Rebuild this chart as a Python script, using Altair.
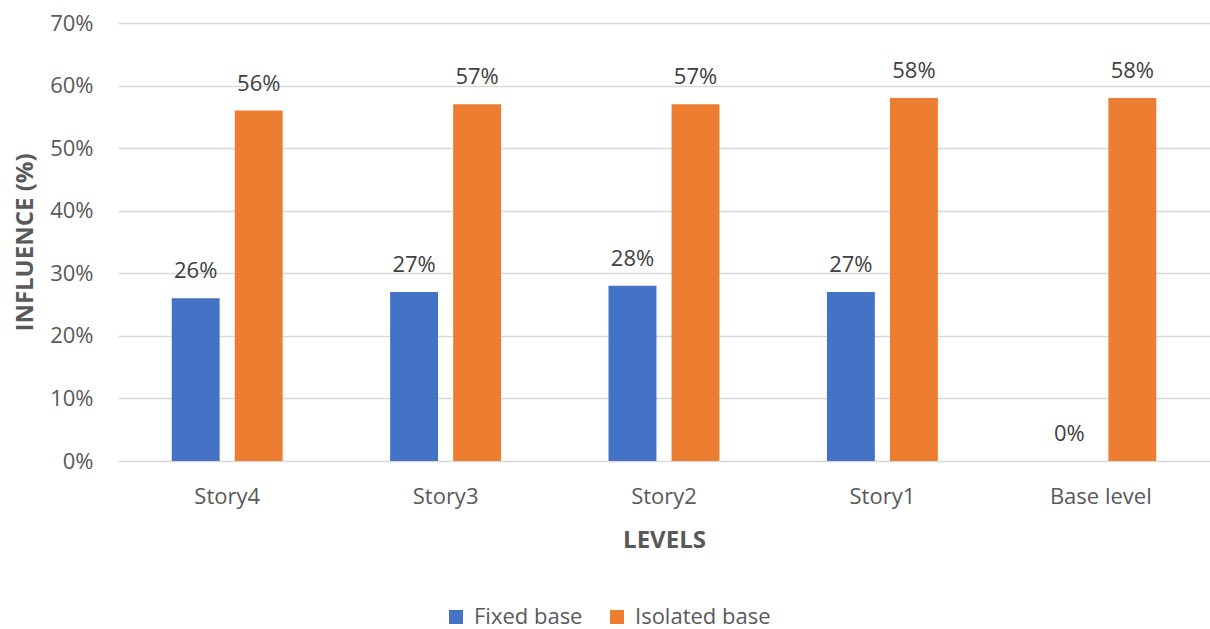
import altair as alt
import pandas as pd

levels = ["Story4", "Story3", "Story2", "Story1", "Base level"]
series = ["Fixed base", "Isolated base"]
fixed_base = [26, 27, 28, 27, 0]
isolated_base = [56, 57, 57, 58, 58]
colors = ["#4472C4", "#ED7D31"]

rows = []
for lvl, f, i in zip(levels, fixed_base, isolated_base):
    rows.append({"level": lvl, "series": series[0], "value": f / 100})
    rows.append({"level": lvl, "series": series[1], "value": i / 100})
df = pd.DataFrame(rows)

FONT = "Open Sans"
GREY = "#595959"
FS = 22

x = alt.X(
    "level:N",
    sort=levels,
    scale=alt.Scale(paddingInner=0.492, paddingOuter=0.246),
    axis=alt.Axis(
        title="LEVELS",
        domain=False,
        ticks=False,
        grid=False,
        labelAngle=0,
        labelBaseline="alphabetic",
        labelPadding=42,
        labelFontSize=FS,
        labelColor=GREY,
        labelFont=FONT,
        titleFont=FONT,
        titleFontSize=24,
        titleFontWeight="bold",
        titleColor=GREY,
        titleY=86,
        titleBaseline="alphabetic",
    ),
)
xoff = alt.XOffset("series:N", sort=series, scale=alt.Scale(paddingInner=0.24, paddingOuter=0))
y = alt.Y(
    "value:Q",
    scale=alt.Scale(domain=[0, 0.7], nice=False),
    axis=alt.Axis(
        title="INFLUENCE (%)",
        format=".0%",
        values=[0, 0.1, 0.2, 0.3, 0.4, 0.5, 0.6, 0.7],
        domain=False,
        ticks=False,
        grid=True,
        gridColor="#D9D9D9",
        gridWidth=1.6,
        labelPadding=25,
        labelFontSize=FS,
        labelColor=GREY,
        labelFont=FONT,
        titleFont=FONT,
        titleFontSize=24,
        titleFontWeight="bold",
        titleColor=GREY,
        titleX=-86,
        titleY=219,
        titleAngle=-90,
        titleBaseline="alphabetic",
    ),
)
color = alt.Color(
    "series:N",
    sort=series,
    scale=alt.Scale(domain=series, range=colors),
    legend=alt.Legend(
        title=None,
        orient="none",
        legendX=327,
        legendY=583,
        padding=0,
        direction="horizontal",
        symbolType="square",
        symbolSize=196,
        symbolStrokeWidth=0,
        labelFontSize=FS,
        labelColor=GREY,
        labelFont=FONT,
        labelOffset=7,
        columnPadding=23,
    ),
)

bars = alt.Chart(df).mark_bar().encode(x=x, xOffset=xoff, y=y, color=color)
labels = alt.Chart(df).mark_text(
    dy=-20, baseline="alphabetic", fontSize=FS, font=FONT, color="#404040"
).encode(
    x=x,
    xOffset=xoff,
    y=y,
    text=alt.Text("value:Q", format=".0%"),
)

chart = (
    alt.layer(bars, labels)
    .properties(
        width=1092,
        height=438,
        autosize=alt.AutoSizeParams(type="none"),
        padding={"left": 118, "top": 23, "right": 0, "bottom": 168},
        view=alt.ViewBackground(stroke="transparent", strokeWidth=0),
    )
    .configure_view(stroke="transparent", strokeWidth=0)
    .configure_axis(domain=False)
    .configure(background="white")
)

chart.save("out.html", embed_options={"renderer": "svg", "actions": False})
